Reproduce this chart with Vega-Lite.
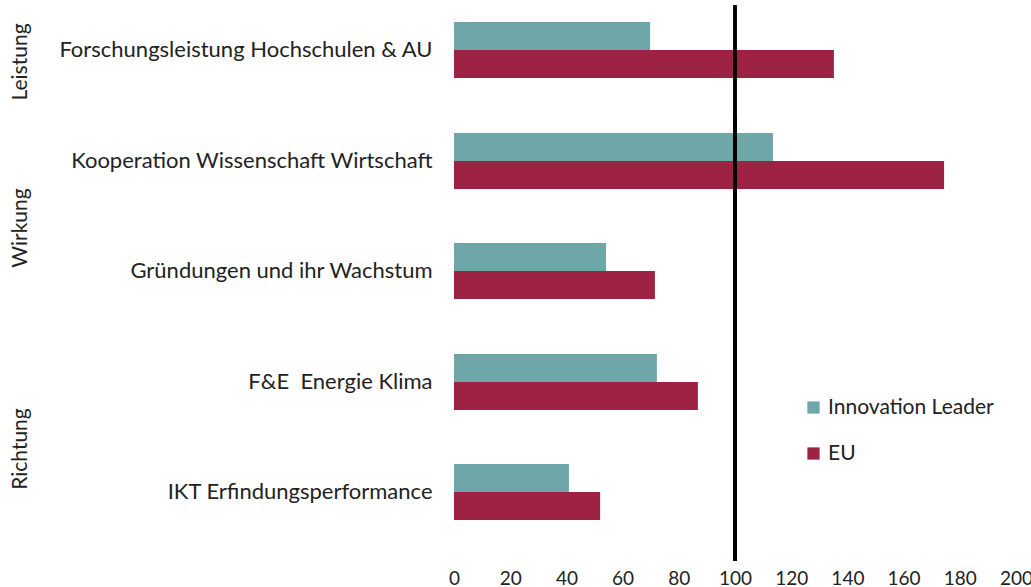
{
  "$schema": "https://vega.github.io/schema/vega-lite/v6.json",
  "padding": {"left": 10, "top": 4, "right": 5, "bottom": 0},
  "background": "white",
  "spacing": {"row": 0},
  "bounds": "flush",
  "config": {
    "font": "Lato",
    "view": {"stroke": null},
    "axis": {"labelFont": "Lato", "labelColor": "#222222", "grid": false, "domain": false, "ticks": false},
    "header": {"labelFont": "Lato", "labelFontSize": 21, "labelColor": "#222222"},
    "facet": {"spacing": 0}
  },
  "data": {
    "values": [
      {"group": "Leistung", "category": "Forschungsleistung Hochschulen & AU", "series": "Innovation Leader", "value": 69.8},
      {"group": "Leistung", "category": "Forschungsleistung Hochschulen & AU", "series": "EU", "value": 135.2},
      {"group": "Wirkung", "category": "Kooperation Wissenschaft Wirtschaft", "series": "Innovation Leader", "value": 113.5},
      {"group": "Wirkung", "category": "Kooperation Wissenschaft Wirtschaft", "series": "EU", "value": 174.4},
      {"group": "Wirkung", "category": "Gründungen und ihr Wachstum", "series": "Innovation Leader", "value": 54.1},
      {"group": "Wirkung", "category": "Gründungen und ihr Wachstum", "series": "EU", "value": 71.5},
      {"group": "Richtung", "category": "F&E\u00a0 Energie Klima", "series": "Innovation Leader", "value": 72.2},
      {"group": "Richtung", "category": "F&E\u00a0 Energie Klima", "series": "EU", "value": 86.8},
      {"group": "Richtung", "category": "IKT Erfindungsperformance", "series": "Innovation Leader", "value": 40.9},
      {"group": "Richtung", "category": "IKT Erfindungsperformance", "series": "EU", "value": 52.0}
    ]
  },
  "facet": {
    "row": {
      "field": "group",
      "type": "nominal",
      "sort": ["Leistung", "Wirkung", "Richtung"],
      "header": {
        "title": null,
        "labelOrient": "left",
        "labelAngle": -90,
        "labelPadding": 412
      }
    }
  },
  "resolve": {"scale": {"y": "independent"}},
  "spec": {
    "width": 562,
    "height": {"step": 28},
    "layer": [
      {
        "mark": {"type": "bar"},
        "encoding": {
          "y": {
            "field": "category",
            "type": "nominal",
            "sort": null,
            "scale": {"paddingInner": 0.49091, "paddingOuter": 0.245455, "align": 0.278},
            "axis": {"title": null, "labelFontSize": 22, "labelPadding": 22, "labelLimit": 500}
          },
          "yOffset": {
            "field": "series",
            "type": "nominal",
            "sort": ["Innovation Leader", "EU"],
            "scale": {"paddingInner": 0, "paddingOuter": 0}
          },
          "x": {
            "field": "value",
            "type": "quantitative",
            "scale": {"domain": [0, 200], "nice": false},
            "axis": {"title": null, "values": [0, 20, 40, 60, 80, 100, 120, 140, 160, 180, 200], "labelFontSize": 19, "labelPadding": 9, "labelFlush": false}
          },
          "color": {
            "field": "series",
            "type": "nominal",
            "sort": ["Innovation Leader", "EU"],
            "scale": {"domain": ["Innovation Leader", "EU"], "range": ["#6fa6a7", "#9d2243"]},
            "legend": {
              "title": null,
              "orient": "none",
              "legendX": 349,
              "legendY": 390,
              "symbolType": "square",
              "symbolSize": 150,
              "symbolStrokeWidth": 0,
              "labelFontSize": 21,
              "labelFont": "Lato",
              "labelColor": "#222222",
              "labelLimit": 400,
              "rowPadding": 24,
              "labelOffset": 4
            }
          }
        }
      },
      {
        "mark": {"type": "rule", "color": "black", "strokeWidth": 3.5, "strokeCap": "square"},
        "encoding": {"x": {"datum": 100}}
      }
    ]
  }
}
